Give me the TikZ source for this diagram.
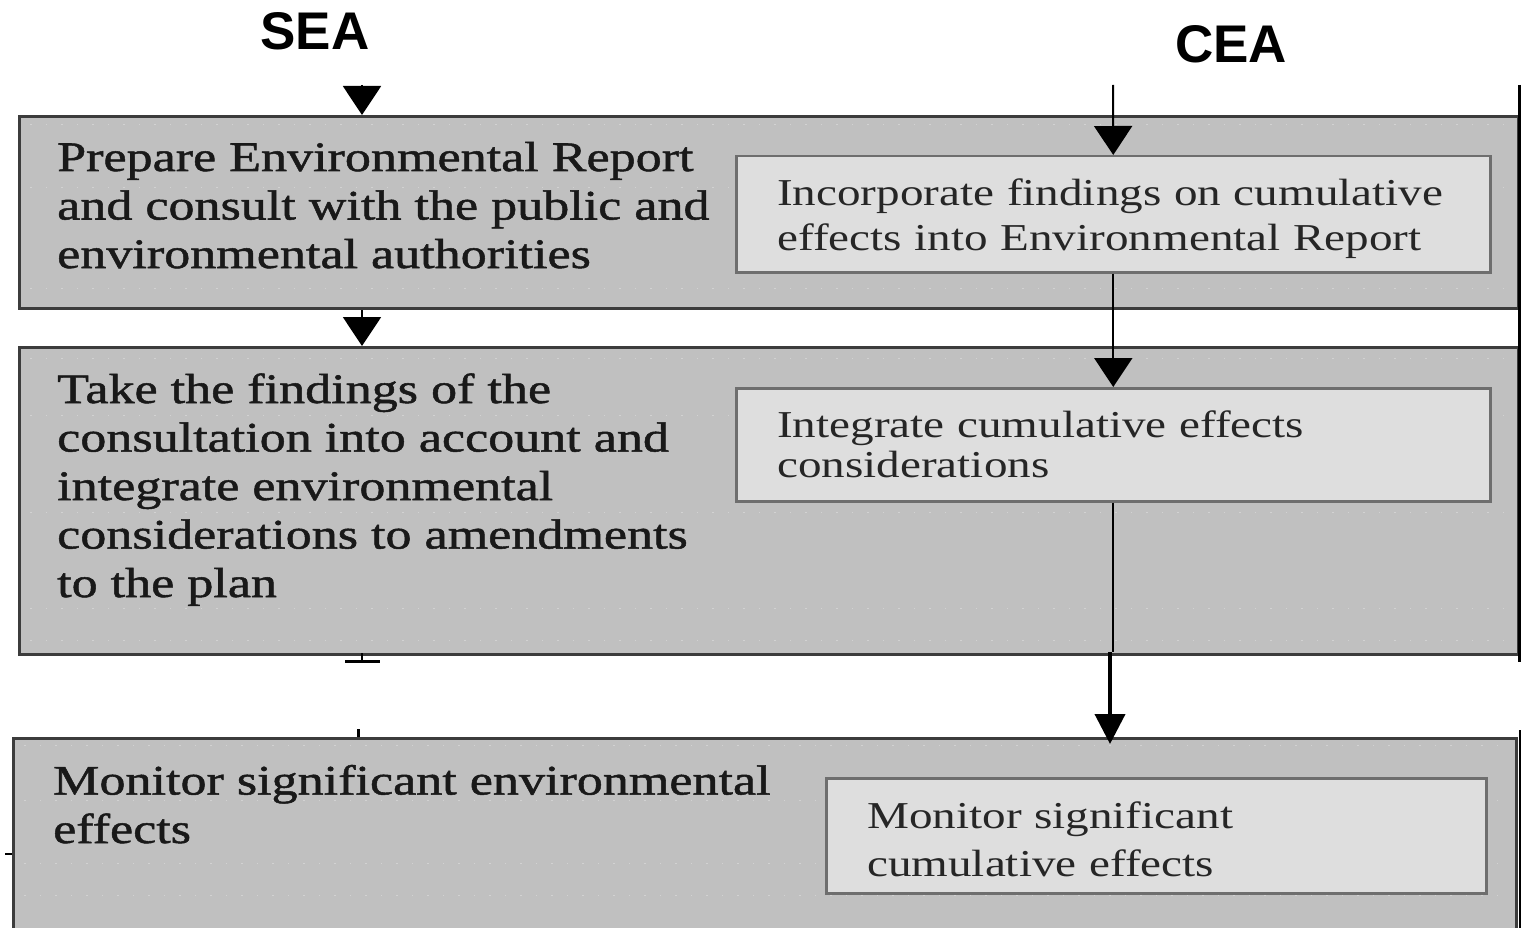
\documentclass[tikz,border=0pt]{standalone}
\usepackage{fontspec}
\setmainfont{Liberation Serif}
\newfontfamily\stagefont[FakeStretch=1.24,FakeBold=1.2]{Liberation Serif}
\newfontfamily\reportfont[FakeStretch=1.24]{Liberation Serif}
\newfontfamily\labelfont{Liberation Sans}
\usetikzlibrary{arrows.meta,positioning}

\definecolor{stagegray}{HTML}{C0C0C0}
\definecolor{stageedge}{HTML}{3C3C3C}
\definecolor{cumgray}{HTML}{DEDEDE}
\definecolor{cumedge}{HTML}{6E6E6E}
\definecolor{dotgray}{HTML}{D2D2D2}

\tikzset{
	stage/.style={draw=stageedge, fill=stagegray, line width=3pt, anchor=north west, inner sep=0pt},
	stagetext/.style={anchor=base west, inner sep=0pt, align=left, text=black!90, font=\stagefont\fontsize{42}{48.5}\selectfont},
	cumbox/.style={draw=cumedge, fill=cumgray, line width=2.5pt, anchor=north west, inner xsep=41pt, inner ysep=0pt, align=left, text=black!85},
	title/.style={anchor=base, inner sep=0pt, font=\labelfont\bfseries\fontsize{53}{60}\selectfont},
	flow/.style={-{Triangle[length=29pt,width=38pt]}, line width=2pt},
	lastflow/.style={-{Triangle[length=30pt,width=30pt]}, line width=4pt},
	texture/.style={dotgray, line width=1pt, dash pattern=on 1.5pt off 14pt},
}

\begin{document}
\begin{tikzpicture}[x=1pt,y=-1pt]
	\useasboundingbox (0,0) rectangle (1523,928);
	% headings
	\node[title] (sea) at (315,50) {SEA};
	\node[title] (cea) at (1231,63) {CEA};
	\coordinate (seatop) at (362,85);
	\coordinate (ceatop) at (1113,85);
	\coordinate (ceaturn) at (1110,652);
	% SEA stages
	\node[stage, minimum width=1499pt, minimum height=192pt] (sea1) at (18,115) {};
	\node[stage, minimum width=1499pt, minimum height=307pt] (sea2) at (18,346) {};
	\node[stage, minimum width=1503pt, minimum height=200pt] (sea3) at (12,737) {};
	\draw[texture] (30,125) -- (1505,125);
	\draw[texture] (30,188) -- (1505,188);
	\draw[texture] (30,288) -- (1505,288);
	\draw[texture] (30,358) -- (1505,358);
	\draw[texture] (30,415) -- (1505,415);
	\draw[texture] (30,512) -- (1505,512);
	\draw[texture] (30,608) -- (1505,608);
	\draw[texture] (30,640) -- (1505,640);
	\draw[texture] (24,745) -- (1505,745);
	\draw[texture] (24,800) -- (1505,800);
	\draw[texture] (24,863) -- (1505,863);
	\draw[texture] (24,895) -- (1505,895);
	% last baseline of each text
	\node[stagetext] (sea1txt) at (57,268) {Prepare Environmental Report\\and consult with the public and\\environmental authorities};
	\node[stagetext] (sea2txt) at (57,597) {Take the findings of the\\consultation into account and\\integrate environmental\\considerations to amendments\\to the plan};
	\node[stagetext] (sea3txt) at (53,843) {Monitor significant environmental\\effects};
	% CEA boxes
	\node[cumbox, text width=672pt, minimum height=116pt, font=\reportfont\fontsize{38}{45}\selectfont] (cea1) at (735,155) {\rule{0pt}{36pt}Incorporate findings on cumulative\\effects into Environmental Report};
	\node[cumbox, text width=672pt, minimum height=113pt, font=\reportfont\fontsize{38}{40}\selectfont] (cea2) at (735,387) {Integrate cumulative effects\\considerations};
	\node[cumbox, text width=578pt, minimum height=115pt, font=\reportfont\fontsize{38}{48}\selectfont] (cea3) at (825,777) {\rule{0pt}{34pt}Monitor significant\\cumulative effects};
	% arrows
	\draw[flow] (seatop) -- (seatop |- sea1.north);
	\draw[flow] (seatop |- sea1.south) -- (seatop |- sea2.north);
	\draw[flow] (ceatop) -- (cea1.north);
	\draw[flow] (cea1.south) -- (cea2.north);
	\draw[line width=2pt] (cea2.south) -- (cea2.south |- ceaturn);
	\draw[lastflow] (ceaturn) -- ([yshift=-7pt]ceaturn |- sea3.north);
	% right edge and stray marks
	\draw[line width=3pt] (1519,85) -- (1519,662);
	\draw[line width=1.5pt] (1520,730) -- (1520,928);
	\draw[line width=2pt] (362,653) -- (362,661);
	\draw[line width=3pt] (345,661) -- (380,661);
	\draw[line width=3pt] (358,729) -- (358,737);
	\draw[line width=3pt] (1110,729) -- (1110,737);
	\draw[line width=2pt] (5,854) -- (12,854);
\end{tikzpicture}
\end{document}
